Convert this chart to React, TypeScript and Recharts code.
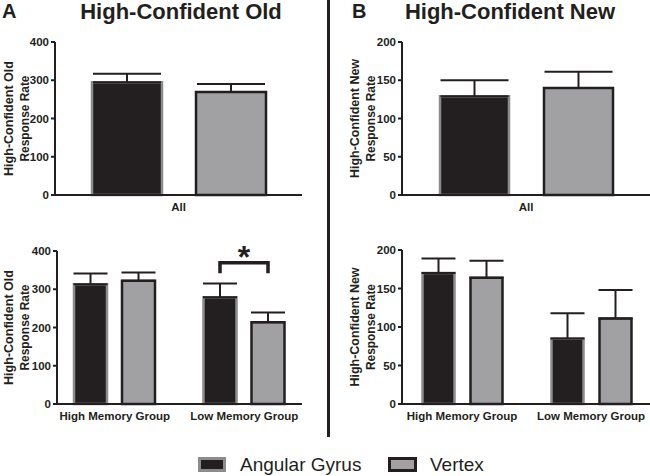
import React from "react";
import {
  Bar,
  BarChart,
  ErrorBar,
  LabelList,
  XAxis,
  YAxis,
} from "recharts";

const FONT = '"Liberation Sans", Arial, Helvetica, sans-serif';
const INK = "#231f20";
const DARK_FILL = "#231f20";
const DARK_EDGE = "#8c8c8c";
const GRAY_FILL = "#a1a1a4";

// Panel data (mean, +SEM)
const allCats = ["All"];
const oldAngular = [295];
const oldAngularErr = [22];
const oldVertex = [269];
const oldVertexErr = [21];
const newAngular = [129];
const newAngularErr = [21];
const newVertex = [140];
const newVertexErr = [21];

const groupCats = ["High Memory Group", "Low Memory Group"];
const oldGroupAngular = [313, 279];
const oldGroupAngularErr = [28, 36];
const oldGroupVertex = [322, 214];
const oldGroupVertexErr = [22, 25];
const newGroupAngular = [170, 85];
const newGroupAngularErr = [19, 33];
const newGroupVertex = [164, 111];
const newGroupVertexErr = [22, 37];

const oldTicks = [0, 100, 200, 300, 400];
const newTicks = [0, 50, 100, 150, 200];

// significance bracket over the low memory group (old responses)
const sigIndex = 1;
const bracketLow = 342;
const bracketHigh = 369;
const starValue = 403;

function buildRows(cats: string[], a: number[], aErr: number[], v: number[], vErr: number[]) {
  return cats.map((name, i) => ({
    name,
    angular: a[i],
    angularErr: [0, aErr[i]],
    vertex: v[i],
    vertexErr: [0, vErr[i]],
  }));
}

const tickStyle = { fill: INK, fontSize: 11.5, fontWeight: 700, fontFamily: FONT };
const catTickStyle = { fill: INK, fontSize: 11.5, fontWeight: 700, fontFamily: FONT };
const axisStroke = { stroke: INK, strokeWidth: 2 };

function yLabel(lines: string[], offsets: number[], lengths: number[]) {
  return (props: any) => {
    const vb = props.viewBox || {};
    const cy = vb.y + vb.height / 2;
    return (
      <g transform={`translate(${vb.x},${cy}) rotate(-90)`}>
        {lines.map((t, i) => (
          <text
            key={t}
            x={0}
            y={offsets[i]}
            textAnchor="middle"
            fill={INK}
            fontSize={13.5}
            fontWeight={700}
            fontFamily={FONT}
            textLength={lengths[i]}
            lengthAdjust="spacingAndGlyphs"
          >
            {t}
          </text>
        ))}
      </g>
    );
  };
}

// bracket drawn from the vertex bar's own geometry (its pixels-per-unit)
function makeBracket(gap: number) {
  return (props: any) => {
    if (props.index !== sigIndex) return null;
    const vb = props.viewBox || props;
    const { x, y, width, height } = vb;
    const value = Number(props.value);
    if (!value || !height) return null;
    const ppu = height / value;
    const base = y + height;
    const right = x + width / 2;
    const left = x - gap - width / 2;
    const yLow = base - bracketLow * ppu;
    const yHigh = base - bracketHigh * ppu;
    const yStar = base - starValue * ppu;
    const fs = 32;
    return (
      <g>
        <path
          d={`M${left},${yLow} L${left},${yHigh} L${right},${yHigh} L${right},${yLow}`}
          fill="none"
          stroke={INK}
          strokeWidth={3.5}
          strokeLinejoin="miter"
        />
        <text
          x={(left + right) / 2}
          y={yStar + fs * 0.57}
          textAnchor="middle"
          fill={INK}
          fontSize={fs}
          fontWeight={700}
          fontFamily={FONT}
        >
          *
        </text>
      </g>
    );
  };
}

type PanelProps = {
  rows: any[];
  width: number;
  height: number;
  margin: { top: number; right: number; left: number; bottom: number };
  yWidth: number;
  xHeight: number;
  domain: [number, number];
  ticks: number[];
  barSize: number;
  barGap: number;
  capWidth: number;
  padding?: { left: number; right: number };
  label: string[];
  labelOffsets: number[];
  labelLengths: number[];
  bracket?: boolean;
};

function Panel(p: PanelProps) {
  return (
    <BarChart
      width={p.width}
      height={p.height}
      data={p.rows}
      margin={p.margin}
      barSize={p.barSize}
      barGap={p.barGap}
    >
      <XAxis
        dataKey="name"
        height={p.xHeight}
        tick={catTickStyle}
        tickLine={false}
        axisLine={axisStroke}
        tickSize={6}
        tickMargin={2}
        padding={p.padding}
        interval={0}
      />
      <YAxis
        width={p.yWidth}
        domain={p.domain}
        ticks={p.ticks}
        interval={0}
        tick={tickStyle}
        tickLine={axisStroke}
        axisLine={axisStroke}
        tickSize={4}
        tickMargin={2}
        label={{ content: yLabel(p.label, p.labelOffsets, p.labelLengths) } as any}
      />
      <Bar dataKey="angular" fill={DARK_FILL} stroke={DARK_EDGE} strokeWidth={2.5} isAnimationActive={false}>
        <ErrorBar dataKey="angularErr" width={p.capWidth} stroke={INK} strokeWidth={2} direction="y" />
      </Bar>
      <Bar dataKey="vertex" fill={GRAY_FILL} stroke={INK} strokeWidth={2.5} isAnimationActive={false}>
        <ErrorBar dataKey="vertexErr" width={p.capWidth} stroke={INK} strokeWidth={2} direction="y" />
        {p.bracket ? <LabelList dataKey="vertex" content={makeBracket(p.barGap)} /> : null}
      </Bar>
    </BarChart>
  );
}

const oldLabel = ["High-Confident Old", "Response Rate"];
const newLabel = ["High-Confident New", "Response Rate"];

export default function App() {
  const oldAll = buildRows(allCats, oldAngular, oldAngularErr, oldVertex, oldVertexErr);
  const newAll = buildRows(allCats, newAngular, newAngularErr, newVertex, newVertexErr);
  const oldGroups = buildRows(groupCats, oldGroupAngular, oldGroupAngularErr, oldGroupVertex, oldGroupVertexErr);
  const newGroups = buildRows(groupCats, newGroupAngular, newGroupAngularErr, newGroupVertex, newGroupVertexErr);

  return (
    <div style={{ position: "absolute", left: 0, top: 0, width: 650, height: 476, background: "#fff", overflow: "hidden" }}>
      <div style={{ position: "absolute", left: 0, top: 0 }}>
        <Panel
          rows={oldAll}
          width={325}
          height={220}
          margin={{ top: 42, right: 23, left: 0, bottom: 0 }}
          yWidth={55}
          xHeight={25}
          domain={[0, 400]}
          ticks={oldTicks}
          barSize={70}
          barGap={34}
          capWidth={34}
          label={oldLabel}
          labelOffsets={[13, 28.5]}
          labelLengths={[115, 86]}
        />
      </div>
      <div style={{ position: "absolute", left: 325, top: 0 }}>
        <Panel
          rows={newAll}
          width={325}
          height={220}
          margin={{ top: 42, right: 0, left: 0, bottom: 0 }}
          yWidth={77}
          xHeight={25}
          domain={[0, 200]}
          ticks={newTicks}
          barSize={69}
          barGap={35}
          capWidth={34}
          label={newLabel}
          labelOffsets={[34, 49.5]}
          labelLengths={[119, 86]}
        />
      </div>
      <div style={{ position: "absolute", left: 0, top: 220 }}>
        <Panel
          rows={oldGroups}
          width={325}
          height={220}
          margin={{ top: 31, right: 23, left: 0, bottom: 0 }}
          yWidth={57}
          xHeight={36}
          domain={[0, 400]}
          ticks={oldTicks}
          barSize={33}
          barGap={15}
          capWidth={17}
          padding={{ left: -7, right: -7 }}
          label={oldLabel}
          labelOffsets={[13, 28.5]}
          labelLengths={[115, 86]}
          bracket
        />
      </div>
      <div style={{ position: "absolute", left: 325, top: 220 }}>
        <Panel
          rows={newGroups}
          width={325}
          height={220}
          margin={{ top: 30, right: 0, left: 0, bottom: 0 }}
          yWidth={77}
          xHeight={36}
          domain={[0, 200]}
          ticks={newTicks}
          barSize={32}
          barGap={16}
          capWidth={17}
          padding={{ left: -4.5, right: -5.5 }}
          label={newLabel}
          labelOffsets={[34, 49.5]}
          labelLengths={[119, 86]}
        />
      </div>
      <svg width={650} height={476} style={{ position: "absolute", left: 0, top: 0, pointerEvents: "none" }}>
        <text x={2} y={18} fontSize={20} fontWeight={700} fontFamily={FONT} fill={INK}>A</text>
        <text x={181} y={19} textAnchor="middle" fontSize={22} fontWeight={700} fontFamily={FONT} fill={INK}>
          High-Confident Old
        </text>
        <text x={352} y={18} fontSize={20} fontWeight={700} fontFamily={FONT} fill={INK}>B</text>
        <text x={510} y={19} textAnchor="middle" fontSize={22} fontWeight={700} fontFamily={FONT} fill={INK}>
          High-Confident New
        </text>
        <rect x={327} y={0} width={3} height={437} fill={INK} />
        <rect x={199.5} y={458.5} width={25} height={12} fill={DARK_FILL} stroke={DARK_EDGE} strokeWidth={3} />
        <text x={240} y={471} fontSize={19} fontFamily={FONT} fill={INK}>Angular Gyrus</text>
        <rect x={389.5} y={458.5} width={26} height={12} fill={GRAY_FILL} stroke={INK} strokeWidth={3} />
        <text x={430} y={471} fontSize={19} fontFamily={FONT} fill={INK}>Vertex</text>
      </svg>
    </div>
  );
}
